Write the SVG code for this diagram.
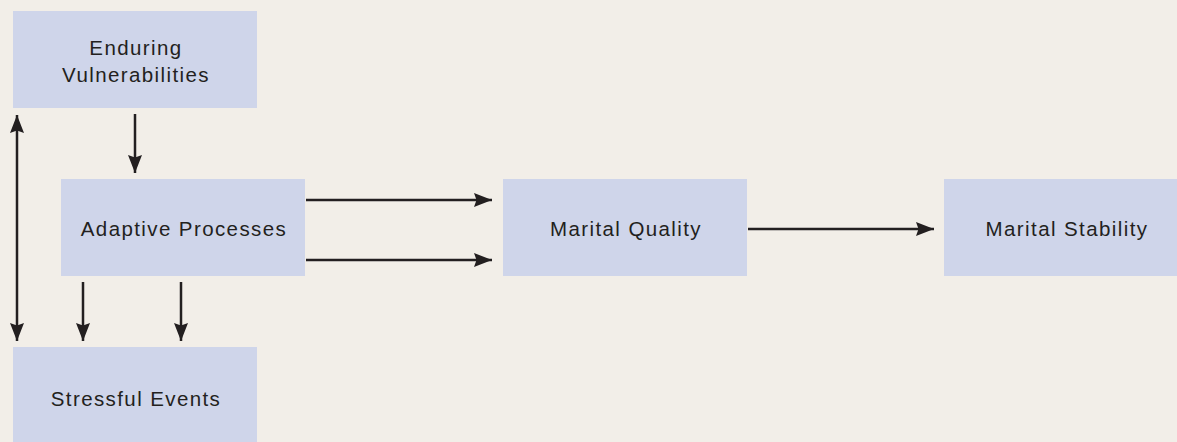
<svg xmlns="http://www.w3.org/2000/svg" width="1177" height="442" viewBox="0 0 1177 442">
  <style>
    .box { fill: #cfd5ea; }
    .label { font-family: "Liberation Sans", Arial, sans-serif; font-size: 20.5px; letter-spacing: 1.4px; fill: #231f20; text-anchor: middle; }
    .conn { stroke: #231f20; stroke-width: 2.5; fill: none; }
  </style>
  <defs>
    <marker id="arrow" viewBox="0 0 18 14" refX="18" refY="7" markerWidth="18" markerHeight="14" markerUnits="userSpaceOnUse" orient="auto-start-reverse">
      <path d="M0,0 L18,7 L0,14 L2.5,7 Z" fill="#231f20"/>
    </marker>
  </defs>
  <rect x="0" y="0" width="1177" height="442" fill="#f2eee8"/>

  <g id="enduring-vulnerabilities">
    <rect class="box" x="13" y="11" width="244" height="97"/>
    <text class="label" x="136" y="55">Enduring</text>
    <text class="label" x="136" y="82">Vulnerabilities</text>
  </g>
  <g id="adaptive-processes">
    <rect class="box" x="61" y="179" width="244" height="97"/>
    <text class="label" x="184" y="236">Adaptive Processes</text>
  </g>
  <g id="stressful-events">
    <rect class="box" x="13" y="347" width="244" height="100"/>
    <text class="label" x="136" y="406">Stressful Events</text>
  </g>
  <g id="marital-quality">
    <rect class="box" x="503" y="179" width="244" height="97"/>
    <text class="label" x="626" y="236">Marital Quality</text>
  </g>
  <g id="marital-stability">
    <rect class="box" x="944" y="179" width="240" height="97"/>
    <text class="label" x="1067" y="236">Marital Stability</text>
  </g>

  <g id="connectors">
    <line class="conn" x1="17" y1="115" x2="17" y2="341" marker-start="url(#arrow)" marker-end="url(#arrow)"/>
    <line class="conn" x1="135" y1="114" x2="135" y2="173" marker-end="url(#arrow)"/>
    <line class="conn" x1="83" y1="282" x2="83" y2="341" marker-end="url(#arrow)"/>
    <line class="conn" x1="181" y1="282" x2="181" y2="341" marker-end="url(#arrow)"/>
    <line class="conn" x1="306" y1="200" x2="492" y2="200" marker-end="url(#arrow)"/>
    <line class="conn" x1="306" y1="260" x2="492" y2="260" marker-end="url(#arrow)"/>
    <line class="conn" x1="748" y1="229" x2="934" y2="229" marker-end="url(#arrow)"/>
  </g>
</svg>
